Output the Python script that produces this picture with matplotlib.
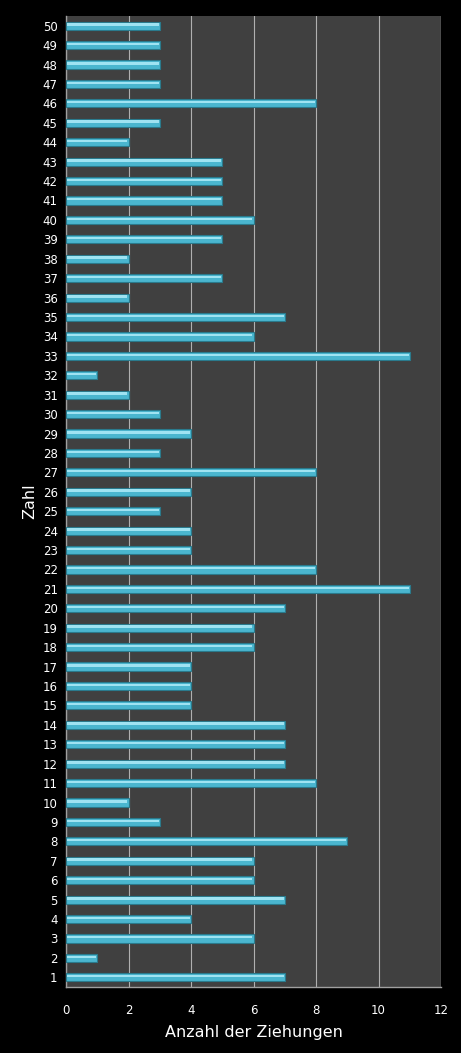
import matplotlib
matplotlib.use('Agg')
import matplotlib.pyplot as plt
import numpy as np

# Zahlen 1..50 und wie oft sie gezogen wurden
zahlen = list(range(1, 51))
anzahl = [7, 1, 6, 4, 7, 6, 6, 9, 3, 2,
          8, 7, 7, 7, 4, 4, 4, 6, 6, 7,
          11, 8, 4, 4, 3, 4, 8, 3, 4, 3,
          2, 1, 11, 6, 7, 2, 5, 2, 5, 6,
          5, 5, 5, 2, 3, 8, 3, 3, 3, 3]
x_ticks = [0, 2, 4, 6, 8, 10, 12]

plt.rcParams['font.family'] = ['DejaVu Sans']

fig = plt.figure(figsize=(4.61, 10.53), dpi=100, facecolor='black')
ax = fig.add_axes([66 / 461, 1 - 987 / 1053, (441 - 66) / 461, (987 - 16) / 1053])
ax.set_facecolor('#404040')

# Balken mit etwas "3D"-Effekt: dunkler Rand, heller Streifen oben
ax.barh(zahlen, anzahl, height=0.42, color='#4ab6cf', edgecolor='#2a7a8c',
        linewidth=0.8, zorder=3)
ax.barh(np.array(zahlen) + 0.06, np.array(anzahl) - 0.08, height=0.12, left=0.04,
        color='#9fe3f2', linewidth=0, zorder=4)

ax.set_xlim(0, 12)
ax.set_ylim(0.5, 50.5)
ax.set_xticks(x_ticks)
ax.set_yticks(zahlen)
ax.tick_params(colors='white', labelsize=8.5, length=0, pad=6)
ax.tick_params(axis='x', pad=12)

ax.grid(axis='x', color='#b0b0b0', linewidth=0.8, zorder=1)
ax.grid(axis='y', visible=False)
for side in ['top', 'right']:
    ax.spines[side].set_visible(False)
for side in ['left', 'bottom']:
    ax.spines[side].set_color('#a0a0a0')
    ax.spines[side].set_linewidth(1)
ax.axvline(12, color='#b0b0b0', linewidth=0.8)

ax.set_xlabel('Anzahl der Ziehungen', color='white', fontsize=11.5, labelpad=6)
ax.set_ylabel('Zahl', color='white', fontsize=11.5, labelpad=4)

plt.savefig('out.png', dpi=100, facecolor='black')
